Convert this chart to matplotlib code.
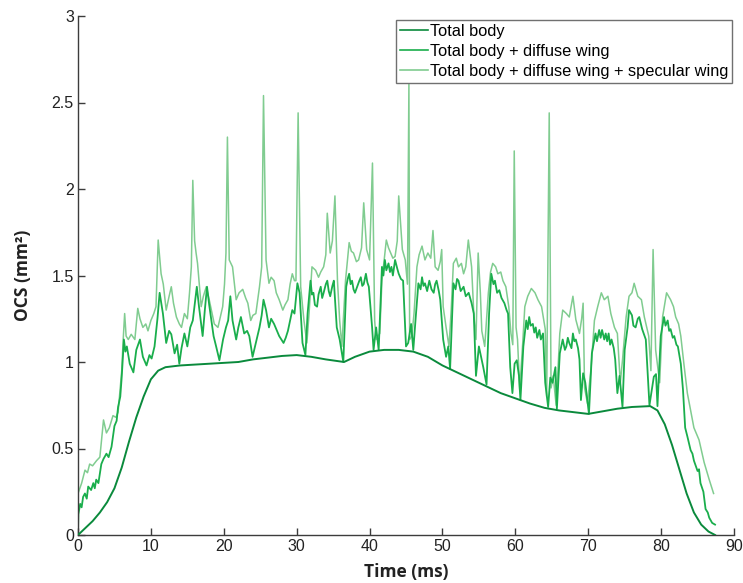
import matplotlib
matplotlib.use("Agg")
import matplotlib.pyplot as plt
import numpy as np

# ---- data ----
body_t = [0, 1, 2, 3, 4, 5, 6, 7, 8, 9, 10, 11, 12, 13, 14, 16, 18, 20, 22, 24, 26, 28, 30,
          32, 34, 36.5, 38, 40, 42, 44, 46, 48, 50, 52, 54, 56, 58, 60, 62, 64, 66, 68, 70,
          72, 74, 76, 78.5, 79.5, 80.5, 81.5, 82.5, 83.5, 84.5, 85.5, 86.5, 87.4]
body_v = [0, 0.04, 0.08, 0.13, 0.19, 0.27, 0.39, 0.54, 0.68, 0.80, 0.90, 0.95, 0.97, 0.975,
          0.98, 0.985, 0.99, 0.995, 1.0, 1.015, 1.025, 1.035, 1.04, 1.03, 1.015, 1.0, 1.03,
          1.06, 1.07, 1.07, 1.06, 1.03, 0.98, 0.94, 0.90, 0.86, 0.82, 0.79, 0.76, 0.735,
          0.72, 0.71, 0.70, 0.715, 0.73, 0.74, 0.745, 0.72, 0.64, 0.52, 0.38, 0.24, 0.13,
          0.06, 0.02, 0.0]

diff_t = [0.0, 0.05, 0.3, 0.5, 0.7, 0.95, 1.2, 1.4, 1.8, 2.1, 2.3, 2.5, 2.8, 3.2, 3.5, 3.9,
          4.2, 4.6, 5.0, 5.3, 5.5, 5.8, 6.0, 6.3, 6.5, 6.7, 7.1, 7.6, 8.0, 8.5, 8.9, 9.4,
          9.8, 10.1, 10.5, 10.9, 11.2, 11.65, 12.1, 12.5, 12.8, 13.25, 13.6, 13.9, 14.2,
          14.6, 15.0, 15.4, 15.75, 16.3, 16.6, 17.1, 17.4, 17.7, 18.0, 18.3, 18.6, 18.95,
          19.4, 19.9, 20.3, 20.6, 20.9, 21.2, 21.7, 22.0, 22.35, 22.8, 23.2, 23.5, 23.95,
          24.4, 24.9, 25.2, 25.45, 25.8, 26.2, 26.5, 26.9, 27.3, 27.6, 28.2, 28.5, 28.8,
          29.1, 29.4, 29.7, 30.1, 30.4, 30.8, 31.2, 31.5, 31.9, 32.1, 32.3, 32.5, 32.8,
          33.0, 33.3, 33.5, 33.7, 34.0, 34.2, 34.4, 34.6, 34.9, 35.1, 35.5, 35.9, 36.4,
          36.8, 37.0, 37.2, 37.4, 37.6, 37.8, 38.0, 38.3, 38.6, 38.8, 39.0, 39.2, 39.5,
          39.7, 39.9, 40.35, 40.55, 40.9, 41.25, 41.7, 41.9, 42.1, 42.3, 42.6, 42.8, 43.0,
          43.2, 43.5, 43.8, 44.0, 44.3, 44.6, 45.0, 45.3, 45.7, 46.0, 46.3, 46.7, 47.0,
          47.2, 47.4, 47.6, 47.9, 48.2, 48.5, 48.8, 49.0, 49.2, 49.5, 49.7, 50.1, 50.5,
          50.8, 51.05, 51.5, 51.8, 52.0, 52.2, 52.5, 52.9, 53.2, 53.6, 54.0, 54.3, 54.6,
          55.0, 55.6, 56.05, 56.4, 56.7, 57.0, 57.2, 57.5, 57.8, 58.1, 58.5, 58.8, 59.0,
          59.3, 59.6, 59.9, 60.2, 60.5, 60.7, 61.1, 61.5, 61.7, 61.9, 62.1, 62.4, 62.6,
          62.8, 63.0, 63.3, 63.5, 63.8, 64.1, 64.5, 64.8, 65.1, 65.5, 65.7, 66.1, 66.5,
          66.8, 67.0, 67.2, 67.4, 67.7, 67.9, 68.1, 68.3, 68.6, 68.8, 69.0, 69.3, 69.6,
          70.1, 70.5, 71.0, 71.2, 71.5, 71.7, 71.9, 72.2, 72.4, 72.6, 72.8, 73.0, 73.2,
          73.5, 73.7, 74.0, 74.3, 74.7, 75.0, 75.4, 75.6, 76.0, 76.2, 76.5, 76.8, 77.0,
          77.4, 77.9, 78.4, 79.0, 79.3, 79.5, 79.95, 80.4, 80.6, 80.9, 81.1, 81.3, 81.6,
          81.8, 82.1, 82.3, 82.7, 83.0, 83.3, 83.6, 84.05, 84.3, 84.5, 85.0, 85.2, 85.4,
          85.8, 86.1, 86.4, 86.6, 87.0, 87.4]
diff_v = [0.01, 0.12, 0.18, 0.16, 0.22, 0.24, 0.21, 0.28, 0.26, 0.30, 0.27, 0.32, 0.30, 0.41,
          0.44, 0.47, 0.45, 0.51, 0.63, 0.66, 0.74, 0.80, 0.915, 1.13, 1.06, 1.09, 0.99,
          0.94, 1.07, 1.13, 1.03, 0.98, 1.04, 1.02, 1.09, 1.25, 1.40, 1.28, 1.11, 1.18,
          1.16, 1.05, 1.10, 0.99, 1.08, 1.165, 1.09, 1.20, 1.24, 1.435, 1.32, 1.15, 1.30,
          1.435, 1.33, 1.24, 1.15, 1.09, 1.01, 1.13, 1.20, 1.24, 1.38, 1.24, 1.13, 1.20,
          1.26, 1.165, 1.18, 1.15, 1.03, 1.11, 1.20, 1.27, 1.36, 1.30, 1.20, 1.25, 1.22,
          1.18, 1.15, 1.11, 1.14, 1.18, 1.24, 1.30, 1.28, 1.455, 1.40, 1.11, 1.04, 1.28,
          1.47, 1.39, 1.40, 1.33, 1.32, 1.39, 1.435, 1.37, 1.40, 1.45, 1.47, 1.41, 1.38,
          1.44, 1.47, 1.20, 1.13, 1.00, 1.435, 1.48, 1.51, 1.45, 1.47, 1.42, 1.40, 1.435,
          1.47, 1.49, 1.44, 1.45, 1.51, 1.46, 1.435, 1.20, 1.07, 1.20, 1.07, 1.55, 1.50,
          1.59, 1.53, 1.57, 1.52, 1.55, 1.50, 1.59, 1.54, 1.51, 1.48, 1.47, 1.09, 1.11,
          1.22, 1.07, 1.24, 1.455, 1.42, 1.49, 1.44, 1.455, 1.41, 1.47, 1.42, 1.40, 1.45,
          1.47, 1.41, 1.36, 1.13, 1.03, 1.09, 0.96, 1.455, 1.42, 1.48, 1.47, 1.41, 1.435,
          1.38, 1.40, 1.34, 1.28, 0.92, 1.09, 0.97, 0.87, 1.28, 1.51, 1.45, 1.47, 1.40,
          1.415, 1.37, 1.34, 1.30, 1.28, 0.97, 0.82, 0.99, 1.01, 0.92, 0.78, 1.09, 1.24,
          1.19, 1.26, 1.21, 1.22, 1.17, 1.20, 1.14, 1.185, 1.13, 1.165, 0.88, 0.74, 0.91,
          0.88, 0.97, 0.73, 1.05, 1.13, 1.07, 1.09, 1.14, 1.11, 1.08, 1.165, 1.12, 1.13,
          1.08, 1.015, 0.78, 0.935, 0.88, 0.70, 1.05, 1.165, 1.12, 1.185, 1.14, 1.185,
          1.13, 1.165, 1.12, 1.165, 1.10, 1.13, 1.08, 1.015, 0.82, 0.92, 0.74, 1.07, 1.20,
          1.30, 1.27, 1.21, 1.20, 1.25, 1.26, 1.19, 1.13, 0.75, 0.915, 0.93, 0.745, 1.15,
          1.26, 1.21, 1.24, 1.18, 1.19, 1.14, 1.15, 1.10, 1.09, 0.99, 0.84, 0.62, 0.57,
          0.49, 0.47, 0.43, 0.37, 0.38, 0.30, 0.25, 0.15, 0.13, 0.10, 0.07, 0.06]

spec_t = [0.0, 0.5, 0.96, 1.3, 1.6, 2.0, 2.55, 3.0, 3.5, 3.9, 4.3, 4.8, 5.2, 5.5, 6.0, 6.2,
          6.4, 6.6, 6.9, 7.3, 7.8, 8.2, 8.5, 8.9, 9.3, 9.6, 10.0, 10.4, 10.7, 11.0, 11.4,
          11.7, 12.1, 12.5, 12.8, 13.1, 13.5, 13.9, 14.2, 14.6, 15.0, 15.3, 15.55, 15.75,
          16.0, 16.2, 16.4, 16.9, 17.2, 17.6, 18.0, 18.3, 18.7, 19.2, 19.85, 20.1, 20.3,
          20.5, 20.75, 21.2, 21.7, 22.1, 22.6, 23.0, 23.3, 23.7, 24.0, 24.4, 24.9, 25.2,
          25.45, 25.8, 26.2, 26.5, 26.9, 27.2, 27.6, 28.1, 28.4, 28.8, 29.1, 29.4, 29.7,
          29.9, 30.2, 30.55, 31.0, 31.4, 31.7, 32.1, 32.6, 33.0, 33.3, 33.7, 34.0, 34.2,
          34.6, 34.9, 35.25, 35.6, 35.9, 36.2, 36.7, 37.2, 37.5, 37.8, 38.2, 38.5, 38.9,
          39.2, 39.6, 40.0, 40.4, 40.7, 40.9, 41.4, 41.7, 42.3, 42.6, 42.9, 43.2, 43.5,
          43.8, 44.0, 44.5, 44.9, 45.2, 45.4, 45.5, 45.8, 46.1, 46.5, 46.8, 47.2, 47.6,
          48.0, 48.4, 48.7, 49.0, 49.4, 49.7, 49.9, 50.1, 50.5, 50.9, 51.2, 51.5, 51.9,
          52.2, 52.6, 52.9, 53.2, 53.55, 54.0, 54.3, 54.6, 54.9, 55.2, 55.4, 55.8, 56.3,
          56.6, 56.9, 57.3, 57.6, 58.0, 58.3, 58.7, 59.1, 59.4, 59.65, 59.85, 60.1, 60.3,
          60.6, 61.0, 61.3, 61.7, 62.2, 62.7, 63.1, 63.6, 64.1, 64.3, 64.65, 64.9, 65.2,
          65.6, 66.1, 66.5, 67.0, 67.4, 67.9, 68.3, 68.8, 69.1, 69.3, 69.5, 69.9, 70.4,
          70.85, 71.3, 71.8, 72.2, 72.7, 73.1, 73.6, 74.0, 74.4, 74.7, 75.2, 75.6, 76.0,
          76.3, 76.8, 77.3, 77.7, 78.3, 78.6, 78.9, 79.25, 79.8, 80.2, 80.75, 81.3, 81.7,
          82.0, 82.4, 82.7, 83.15, 83.6, 84.05, 84.5, 85.2, 85.9, 86.6, 87.2]
spec_v = [0.24, 0.30, 0.375, 0.36, 0.41, 0.40, 0.43, 0.45, 0.665, 0.59, 0.62, 0.69, 0.68,
          0.71, 0.95, 1.13, 1.28, 1.15, 1.13, 1.16, 1.13, 1.31, 1.25, 1.20, 1.22, 1.18,
          1.24, 1.28, 1.32, 1.705, 1.51, 1.45, 1.30, 1.38, 1.435, 1.34, 1.26, 1.22, 1.20,
          1.28, 1.25, 1.40, 1.55, 2.05, 1.70, 1.63, 1.57, 1.32, 1.38, 1.435, 1.36, 1.30,
          1.22, 1.20, 1.32, 1.45, 1.63, 2.30, 1.59, 1.55, 1.36, 1.40, 1.42, 1.37, 1.34,
          1.24, 1.27, 1.28, 1.435, 1.55, 2.54, 1.59, 1.455, 1.49, 1.47, 1.40, 1.36, 1.30,
          1.33, 1.36, 1.45, 1.51, 1.47, 1.47, 2.44, 1.435, 1.24, 1.11, 1.28, 1.55, 1.53,
          1.49, 1.52, 1.55, 1.62, 1.86, 1.63, 1.70, 1.96, 1.47, 1.24, 1.09, 1.47, 1.69,
          1.64, 1.63, 1.58, 1.59, 1.66, 1.92, 1.65, 1.59, 2.15, 1.24, 1.13, 1.165, 1.47,
          1.705, 1.66, 1.63, 1.60, 1.61, 1.70, 1.96, 1.65, 1.59, 1.45, 2.61, 1.13, 1.15,
          1.28, 1.55, 1.62, 1.67, 1.59, 1.63, 1.60, 1.76, 1.55, 1.53, 1.58, 1.65, 1.32,
          1.20, 1.09, 1.30, 1.57, 1.60, 1.55, 1.57, 1.51, 1.55, 1.705, 1.55, 1.28, 1.13,
          1.63, 1.40, 1.18, 1.09, 1.40, 1.52, 1.57, 1.55, 1.51, 1.52, 1.47, 1.435, 1.32,
          1.165, 1.10, 2.22, 1.20, 1.13, 0.84, 1.10, 1.32, 1.38, 1.425, 1.40, 1.36, 1.32,
          1.19, 0.80, 2.44, 0.85, 0.92, 0.75, 1.165, 1.30, 1.28, 1.26, 1.38, 1.245, 1.165,
          1.25, 1.34, 0.85, 0.76, 0.97, 1.24, 1.32, 1.40, 1.36, 1.38, 1.28, 1.20, 1.165,
          0.88, 1.01, 1.26, 1.38, 1.40, 1.455, 1.38, 1.36, 1.26, 1.15, 0.95, 1.65, 1.07,
          0.88, 1.26, 1.40, 1.36, 1.32, 1.26, 1.22, 1.15, 0.98, 0.82, 0.72, 0.62, 0.55,
          0.42, 0.32, 0.24]

labels = ["Total body", "Total body + diffuse wing", "Total body + diffuse wing + specular wing"]
x_ticks = [0, 10, 20, 30, 40, 50, 60, 70, 80, 90]
y_ticks = [0, 0.5, 1, 1.5, 2, 2.5, 3]
y_tick_labels = ["0", "0.5", "1", "1.5", "2", "2.5", "3"]

# ---- figure ----
W, H = 743, 583
fig = plt.figure(figsize=(W / 100, H / 100), dpi=100)
ax = fig.add_axes([78 / W, 1 - 535 / H, (734 - 78) / W, (535 - 16) / H])

c_body = "#0a8a3c"
c_diff = "#1aae4c"
c_spec = "#80cc90"

l1, = ax.plot(body_t, body_v, color=c_body, lw=1.4, zorder=3)
l2, = ax.plot(diff_t, diff_v, color=c_diff, lw=1.3, zorder=2)
l3, = ax.plot(spec_t, spec_v, color=c_spec, lw=1.1, zorder=1)

ax.set_xlim(0, 90)
ax.set_ylim(0, 3)
ax.set_xticks(x_ticks)
ax.set_yticks(y_ticks)
ax.set_yticklabels(y_tick_labels)
for s in ["top", "right"]:
    ax.spines[s].set_visible(False)
for s in ["left", "bottom"]:
    ax.spines[s].set_color("#3c3c3c")
    ax.spines[s].set_linewidth(1.0)
ax.tick_params(direction="in", length=5, width=1.0, color="#3c3c3c",
               labelsize=11.5, labelcolor="#222222", pad=3)
for lab in ax.get_xticklabels() + ax.get_yticklabels():
    lab.set_fontfamily("Liberation Sans")

ax.set_xlabel("Time (ms)", fontsize=12.5, fontweight="bold", family="Open Sans",
              color="#222222", labelpad=6)
ax.set_ylabel("OCS (mm²)", fontsize=12.5, fontweight="bold", family="Open Sans",
              color="#222222", labelpad=14)

leg = ax.legend([l1, l2, l3], labels, loc="upper right",
                bbox_to_anchor=(732 / W, 1 - 20 / H), bbox_transform=fig.transFigure,
                borderaxespad=0, fancybox=False, framealpha=1, edgecolor="#707070",
                prop={"family": "Liberation Sans", "size": 11.8},
                handlelength=1.7, handletextpad=0.1, labelspacing=0.3,
                borderpad=0.25)
leg.get_frame().set_linewidth(1.0)
for ln in leg.get_lines():
    ln.set_linewidth(1.2)

fig.savefig("out.png", dpi=100)
